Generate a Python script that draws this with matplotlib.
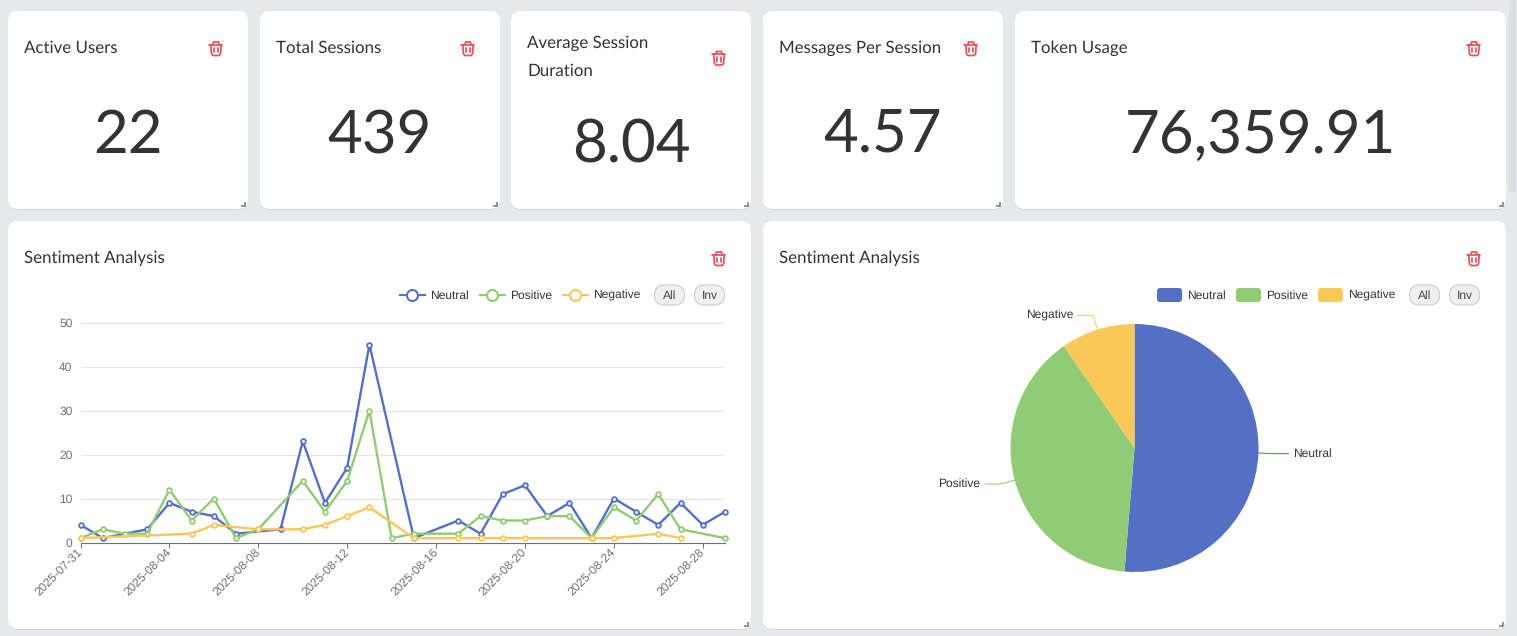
import numpy as np
import pandas as pd
import matplotlib
matplotlib.use('Agg')
import matplotlib.pyplot as plt
import matplotlib.dates as mdates
from matplotlib.patches import FancyBboxPatch

W, H = 1517, 636
BLUE, GREEN, YELLOW = '#5470c6', '#91cc75', '#fac858'
RED = '#e8505b'

dates = pd.date_range('2025-07-31', periods=30)

neutral_days = [0, 1, 3, 4, 5, 6, 7, 9, 10, 11, 12, 13, 15, 17, 18, 19, 20, 21, 22, 23, 24, 25, 26, 27, 28, 29]
neutral_vals = [4, 1, 3, 9, 7, 6, 2, 3, 23, 9, 17, 45, 1, 5, 2, 11, 13, 6, 9, 1, 10, 7, 4, 9, 4, 7]
positive_days = [0, 1, 2, 3, 4, 5, 6, 7, 8, 10, 11, 12, 13, 14, 15, 17, 18, 19, 20, 21, 22, 23, 24, 25, 26, 27, 29]
positive_vals = [1, 3, 2, 2, 12, 5, 10, 1, 3, 14, 7, 14, 30, 1, 2, 2, 6, 5, 5, 6, 6, 1, 8, 5, 11, 3, 1]
negative_days = [0, 5, 6, 8, 10, 11, 12, 13, 15, 17, 18, 19, 20, 23, 24, 26, 27]
negative_vals = [1, 2, 4, 3, 3, 4, 6, 8, 1, 1, 1, 1, 1, 1, 1, 2, 1]

pie_labels = ['Neutral', 'Positive', 'Negative']
pie_vals = [218, 166, 41]

kpi_titles = [['Active Users'], ['Total Sessions'], ['Average Session', 'Duration'],
              ['Messages Per Session'], ['Token Usage']]
kpi_values = ['22', '439', '8.04', '4.57', '76,359.91']
kpi_boxes = [(8, 248), (260, 500), (511, 751), (763, 1003), (1015, 1506)]

plt.rcParams['font.family'] = ['Liberation Sans', 'DejaVu Sans']
plt.rcParams['text.hinting'] = 'none'
TITLE_PX = 16.9


def px(v):
    # css pixels to points at dpi 100
    return v * 0.72


def card(bg, x0, y0, x1, y1):
    shadow = FancyBboxPatch((x0, y0 + 1), x1 - x0, y1 - y0, boxstyle='round,pad=0,rounding_size=10',
                            fc='#d5d9de', ec='none', zorder=1)
    bg.add_patch(shadow)
    face = FancyBboxPatch((x0, y0), x1 - x0, y1 - y0, boxstyle='round,pad=0,rounding_size=10',
                          fc='white', ec='none', zorder=2)
    bg.add_patch(face)
    # resize handle
    bg.plot([x1 - 7, x1 - 3, x1 - 3], [y1 - 3, y1 - 3, y1 - 7], color='#777777', lw=1.1,
            solid_capstyle='butt', solid_joinstyle='miter', zorder=3)


def trash(bg, cx, cy):
    kw = dict(color=RED, lw=1.25, zorder=3, solid_capstyle='round')
    bg.plot([cx - 6.5, cx + 6.5], [cy - 4, cy - 4], **kw)
    bg.plot([cx - 3, cx - 2.5, cx + 2.5, cx + 3], [cy - 4, cy - 6.5, cy - 6.5, cy - 4], **kw)
    bg.plot([cx - 5.2, cx - 4.6, cx - 3, cx + 3, cx + 4.6, cx + 5.2],
            [cy - 4, cy + 5.3, cy + 7, cy + 7, cy + 5.3, cy - 4], **kw)
    bg.plot([cx - 1.6, cx - 1.6], [cy - 1, cy + 3.5], **kw)
    bg.plot([cx + 1.6, cx + 1.6], [cy - 1, cy + 3.5], **kw)


def pill(bg, x0, x1, yc, label):
    bg.add_patch(FancyBboxPatch((x0, yc - 10), x1 - x0, 20, boxstyle='round,pad=0,rounding_size=10',
                                fc='#f0f0f0', ec='#cccccc', lw=0.8, zorder=3))
    bg.text((x0 + x1) / 2, yc + 4, label, fontsize=px(12), color='#444444', ha='center', zorder=4)


def axes_px(fig, x0, y0, x1, y1):
    return fig.add_axes([x0 / W, 1 - y1 / H, (x1 - x0) / W, (y1 - y0) / H])


fig = plt.figure(figsize=(W / 100, H / 100), dpi=100, facecolor='#e6e9ec')
bg = fig.add_axes([0, 0, 1, 1])
bg.set_xlim(0, W)
bg.set_ylim(H, 0)
bg.axis('off')

# scrollbar thumb
bg.add_patch(FancyBboxPatch((1509, -5), 7, 197, boxstyle='round,pad=0,rounding_size=3',
                            fc='#dcdfe3', ec='none', zorder=1))

# top row
for i, (x0, x1) in enumerate(kpi_boxes):
    card(bg, x0, 11, x1, 209)
    two_line = len(kpi_titles[i]) > 1
    for j, line in enumerate(kpi_titles[i]):
        bg.text(x0 + 16.5, (48 if two_line else 53) + j * 28, line, family='Lato', fontsize=px(TITLE_PX),
                color='#333333', zorder=4)
    trash(bg, x1 - 32, 58 if two_line else 48.5)
    bg.text((x0 + x1) / 2, 162 if two_line else 153, kpi_values[i], family='Lato', fontsize=px(60),
            color='#333333', ha='center', zorder=4)

# bottom cards
for x0, x1 in [(8, 751), (763, 1506)]:
    card(bg, x0, 221, x1, 629)
    bg.text(x0 + 16.5, 263, 'Sentiment Analysis', family='Lato', fontsize=px(TITLE_PX), color='#333333', zorder=4)
    trash(bg, x1 - 32, 258.5)

# line legend
for xs, name, c in [(400, 'Neutral', BLUE), (480, 'Positive', GREEN), (563, 'Negative', YELLOW)]:
    bg.plot([xs, xs + 25], [295, 295], color=c, lw=1.5, zorder=3)
    bg.plot([xs + 12.5], [295], 'o', ms=px(11), mfc='white', mec=c, mew=1.5, zorder=4)
    bg.text(xs + 30, 299, name, fontsize=px(12), color='#333333', zorder=4)
pill(bg, 654.5, 684.5, 295, 'All')
pill(bg, 694.5, 724.5, 295, 'Inv')

# pie legend
for xs, name, c in [(1157, 'Neutral', BLUE), (1236, 'Positive', GREEN), (1318, 'Negative', YELLOW)]:
    bg.add_patch(FancyBboxPatch((xs, 288), 25, 14, boxstyle='round,pad=0,rounding_size=3',
                                fc=c, ec='none', zorder=3))
    bg.text(xs + 30, 299, name, fontsize=px(12), color='#333333', zorder=4)
pill(bg, 1409.5, 1439.5, 295, 'All')
pill(bg, 1449.5, 1479.5, 295, 'Inv')

# line chart
ax = axes_px(fig, 80.5, 322.5, 725, 542.5)
ax.patch.set_alpha(0)
for days, vals, c in [(neutral_days, neutral_vals, BLUE),
                      (positive_days, positive_vals, GREEN),
                      (negative_days, negative_vals, YELLOW)]:
    ax.plot(dates[days], vals, color=c, lw=1.7, marker='o', ms=3.4, mfc='white', mec=c, mew=1.3,
            clip_on=False, zorder=3)
ax.set_xlim(dates[0], dates[-1])
ax.set_ylim(0, 50)
ax.set_yticks([0, 10, 20, 30, 40, 50])
ax.grid(axis='y', color='#e0e6f1', lw=0.72)
ax.set_axisbelow(True)
for s in ['top', 'right', 'left']:
    ax.spines[s].set_visible(False)
ax.spines['bottom'].set_color('#6e7079')
ax.spines['bottom'].set_linewidth(0.8)
ax.set_xticks(dates[::4])
ax.xaxis.set_major_formatter(mdates.DateFormatter('%Y-%m-%d'))
ax.tick_params(axis='x', length=px(5), width=0.72, color='#6e7079', pad=px(3))
ax.tick_params(axis='y', length=0, pad=px(8))
for t in ax.get_xticklabels():
    t.set(rotation=45, ha='right', va='center', rotation_mode='anchor', fontsize=px(12), color='#6e7079')
for t in ax.get_yticklabels():
    t.set(fontsize=px(12), color='#6e7079')

# pie chart
R = 124
cx, cy = 1134.5, 448
pie_ax = axes_px(fig, cx - R, cy - R, cx + R, cy + R)
wedges, _ = pie_ax.pie(pie_vals, colors=[BLUE, GREEN, YELLOW], startangle=90, counterclock=False,
                       radius=1, wedgeprops=dict(lw=0))
pie_ax.set_xlim(-1, 1)
pie_ax.set_ylim(-1, 1)
for w, name, c in zip(wedges, pie_labels, [BLUE, GREEN, YELLOW]):
    a = np.deg2rad((w.theta1 + w.theta2) / 2)
    ux, uy = np.cos(a), np.sin(a)
    ex, ey = ux * (1 + 15 / R), uy * (1 + 15 / R)
    sign = 1 if ux > 0 else -1
    pie_ax.plot([ux, ex, ex + sign * 15 / R], [uy, ey, ey], color=c, lw=0.72, clip_on=False)
    pie_ax.text(ex + sign * 20 / R, ey, name, fontsize=px(12), color='#333333', va='center',
                ha='left' if sign > 0 else 'right', clip_on=False)

fig.savefig('out.png', dpi=100, facecolor=fig.get_facecolor())
